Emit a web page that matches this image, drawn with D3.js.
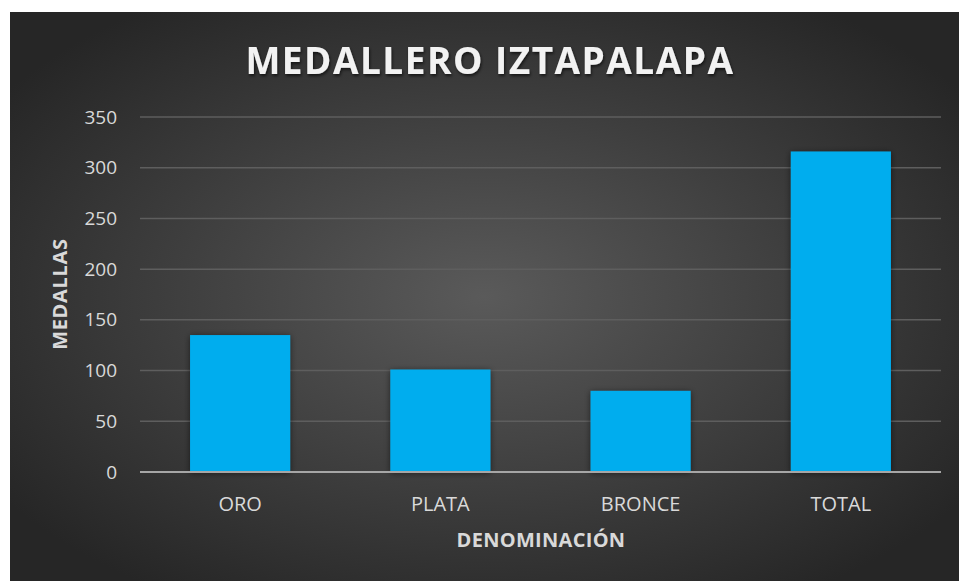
<!DOCTYPE html>
<html>
<head>
<meta charset="utf-8">
<script src="https://cdn.jsdelivr.net/npm/d3@7/dist/d3.min.js"></script>
<style>
  body { margin: 0; background: #fff; }
  svg text { font-family: "Open Sans", sans-serif; }
</style>
</head>
<body>
<svg id="chart"></svg>
<script>
// medal counts
var categories = ["ORO", "PLATA", "BRONCE", "TOTAL"];
var medals = [135, 101, 80, 316];
var yTicks = [0, 50, 100, 150, 200, 250, 300, 350];

var width = 959, height = 581;
var margin = {top: 117, right: 18, bottom: 109, left: 140};

var svg = d3.select("#chart").attr("width", width).attr("height", height);
var defs = svg.append("defs");

var grad = defs.append("radialGradient").attr("id", "bg")
  .attr("cx", "50%").attr("cy", "50%").attr("r", "62%");
grad.append("stop").attr("offset", "0%").attr("stop-color", "#5a5a5a");
grad.append("stop").attr("offset", "100%").attr("stop-color", "#262626");

var shadow = defs.append("filter").attr("id", "shadow")
  .attr("x", "-20%").attr("y", "-20%").attr("width", "140%").attr("height", "140%");
shadow.append("feDropShadow").attr("dx", 0).attr("dy", 1).attr("stdDeviation", 3)
  .attr("flood-color", "#000").attr("flood-opacity", 0.55);

var tshadow = defs.append("filter").attr("id", "tshadow");
tshadow.append("feDropShadow").attr("dx", 1).attr("dy", 2).attr("stdDeviation", 1.5)
  .attr("flood-color", "#000").attr("flood-opacity", 0.6);

svg.append("rect").attr("x", 10).attr("y", 12)
  .attr("width", width - 10).attr("height", height - 12)
  .attr("fill", "url(#bg)");

var x = d3.scaleBand().domain(categories)
  .range([margin.left, width - margin.right])
  .paddingInner(0.5).paddingOuter(0.25);

var y = d3.scaleLinear().domain([0, 350])
  .range([height - margin.bottom, margin.top]);

// gridlines
svg.append("g").selectAll("line").data(yTicks.filter(function(d) { return d > 0; }))
  .enter().append("line")
  .attr("x1", margin.left).attr("x2", width - margin.right)
  .attr("y1", function(d) { return y(d); }).attr("y2", function(d) { return y(d); })
  .attr("stroke", "#5e5e5e").attr("stroke-width", 1.5);

// y axis labels
var yAxis = d3.axisLeft(y).tickValues(yTicks).tickSize(0).tickPadding(0);
svg.append("g").attr("transform", "translate(" + (margin.left - 23) + ",0)")
  .call(yAxis)
  .call(function(g) { g.select(".domain").remove(); })
  .selectAll("text")
  .attr("fill", "#d9d9d9").style("font-size", "19px");

// bars
svg.append("g").selectAll("rect").data(medals).enter().append("rect")
  .attr("x", function(d, i) { return x(categories[i]); })
  .attr("y", function(d) { return y(d); })
  .attr("width", x.bandwidth())
  .attr("height", function(d) { return y(0) - y(d); })
  .attr("fill", "#00adee")
  .attr("filter", "url(#shadow)");

// baseline
svg.append("line")
  .attr("x1", margin.left).attr("x2", width - margin.right)
  .attr("y1", y(0)).attr("y2", y(0))
  .attr("stroke", "#a6a6a6").attr("stroke-width", 2);

// x axis labels
var xAxis = d3.axisBottom(x).tickSize(0).tickPadding(0);
svg.append("g").attr("transform", "translate(0," + (y(0) + 39) + ")")
  .call(xAxis)
  .call(function(g) { g.select(".domain").remove(); })
  .selectAll("text")
  .attr("dy", 0)
  .attr("fill", "#d9d9d9").style("font-size", "20px");

// title
svg.append("text")
  .attr("x", 490).attr("y", 74)
  .attr("text-anchor", "middle")
  .attr("fill", "#f2f2f2")
  .attr("filter", "url(#tshadow)")
  .style("font-size", "37px").style("font-weight", "bold")
  .style("letter-spacing", "1.5px")
  .text("MEDALLERO IZTAPALAPA");

// axis titles
svg.append("text")
  .attr("x", 541).attr("y", 547)
  .attr("text-anchor", "middle")
  .attr("fill", "#d9d9d9")
  .style("font-size", "20px").style("font-weight", "bold")
  .style("letter-spacing", "0.3px")
  .text("DENOMINACIÓN");

svg.append("text")
  .attr("transform", "translate(67," + 294 + ") rotate(-90)")
  .attr("text-anchor", "middle")
  .attr("fill", "#d9d9d9")
  .style("font-size", "20px").style("font-weight", "bold")
  .style("letter-spacing", "0.7px")
  .text("MEDALLAS");
</script>
</body>
</html>
